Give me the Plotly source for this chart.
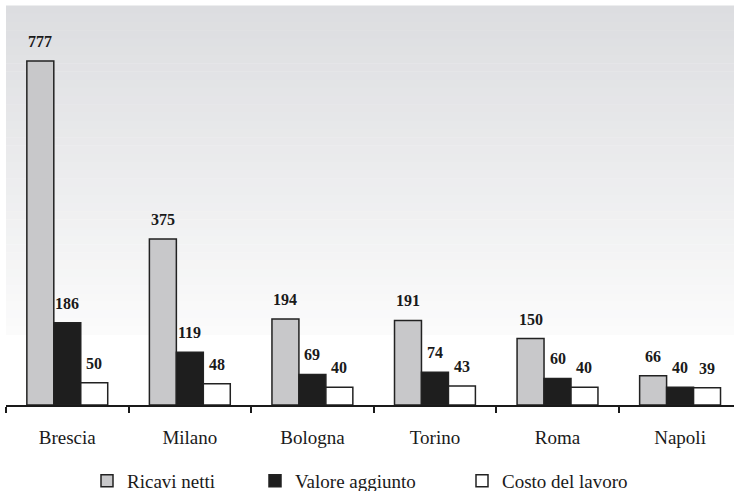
import plotly.graph_objects as go

cities = ["Brescia", "Milano", "Bologna", "Torino", "Roma", "Napoli"]
ricavi = [777, 375, 194, 191, 150, 66]
valore = [186, 119, 69, 74, 60, 40]
costo = [50, 48, 40, 43, 40, 39]
series_names = ["Ricavi netti", "Valore aggiunto", "Costo del lavoro"]
series_values = [ricavi, valore, costo]
series_colors = ["#c8c8ca", "#1e1e1e", "#ffffff"]

W, H = 734, 491
ML, MR, MT, MB = 6, 0, 6, 86
BARGAP = 0.34
YMAX = 901
FONT = "Liberation Serif"

fig = go.Figure()
legend_ids = ["legend", "legend2", "legend3"]
for name, vals, col, lg in zip(series_names, series_values, series_colors, legend_ids):
    fig.add_trace(go.Bar(
        x=cities, y=vals, name=name, legend=lg,
        marker=dict(color=col, line=dict(color="#222222", width=1.5)),
    ))

# data labels
w = (1 - BARGAP) / 3
for j, vals in enumerate(series_values):
    for i, v in enumerate(vals):
        fig.add_annotation(
            x=i + (j - 1) * w, y=v, text=f"<b>{v}</b>", showarrow=False,
            xref="x", yref="y", yanchor="bottom", yshift=9,
            font=dict(family=FONT, size=16, color="#1a1a1a"),
        )

# background gradient (styling only)
top_px, bot_px = MT, 335
plot_h = H - MT - MB
n = 40
c0 = (220, 221, 224)
c1 = (251, 251, 251)
shapes = []
for k in range(n):
    y_a = top_px + (bot_px - top_px) * k / n
    y_b = top_px + (bot_px - top_px) * (k + 1) / n
    t = k / (n - 1)
    c = tuple(round(c0[m] + (c1[m] - c0[m]) * t) for m in range(3))
    shapes.append(dict(
        type="rect", xref="paper", yref="paper", layer="below",
        x0=0, x1=1,
        y0=(H - MB - y_b) / plot_h, y1=(H - MB - y_a) / plot_h + 0.001,
        fillcolor=f"rgb{c}", line=dict(width=0),
    ))

leg_text_start = [127, 295, 502]
legend_kw = {}
for lg, xs in zip(legend_ids, leg_text_start):
    legend_kw[lg] = dict(
        xref="container", yref="container",
        x=(xs - 40) / W, y=1 - 462 / H, xanchor="left", yanchor="top",
        orientation="h", bgcolor="rgba(0,0,0,0)",
        font=dict(family=FONT, size=19, color="#1a1a1a"),
    )

fig.update_layout(
    width=W, height=H,
    font=dict(family=FONT, color="#1a1a1a"),
    margin=dict(l=ML, r=MR, t=MT, b=MB),
    paper_bgcolor="white", plot_bgcolor="white",
    barmode="group", bargap=BARGAP, bargroupgap=0,
    shapes=shapes,
    showlegend=True,
    **legend_kw,
)
fig.update_xaxes(
    range=[-0.5, 5.44], showgrid=False, zeroline=False,
    showline=True, linecolor="#1a1a1a", linewidth=2,
    ticks="outside", tickson="boundaries", ticklen=6, tickwidth=2, tickcolor="#1a1a1a",
    tickfont=dict(family=FONT, size=19, color="#1a1a1a"),
    ticklabelstandoff=14,
)
fig.update_yaxes(range=[0, YMAX], visible=False, showgrid=False, zeroline=False)

fig.write_html("out.html")
